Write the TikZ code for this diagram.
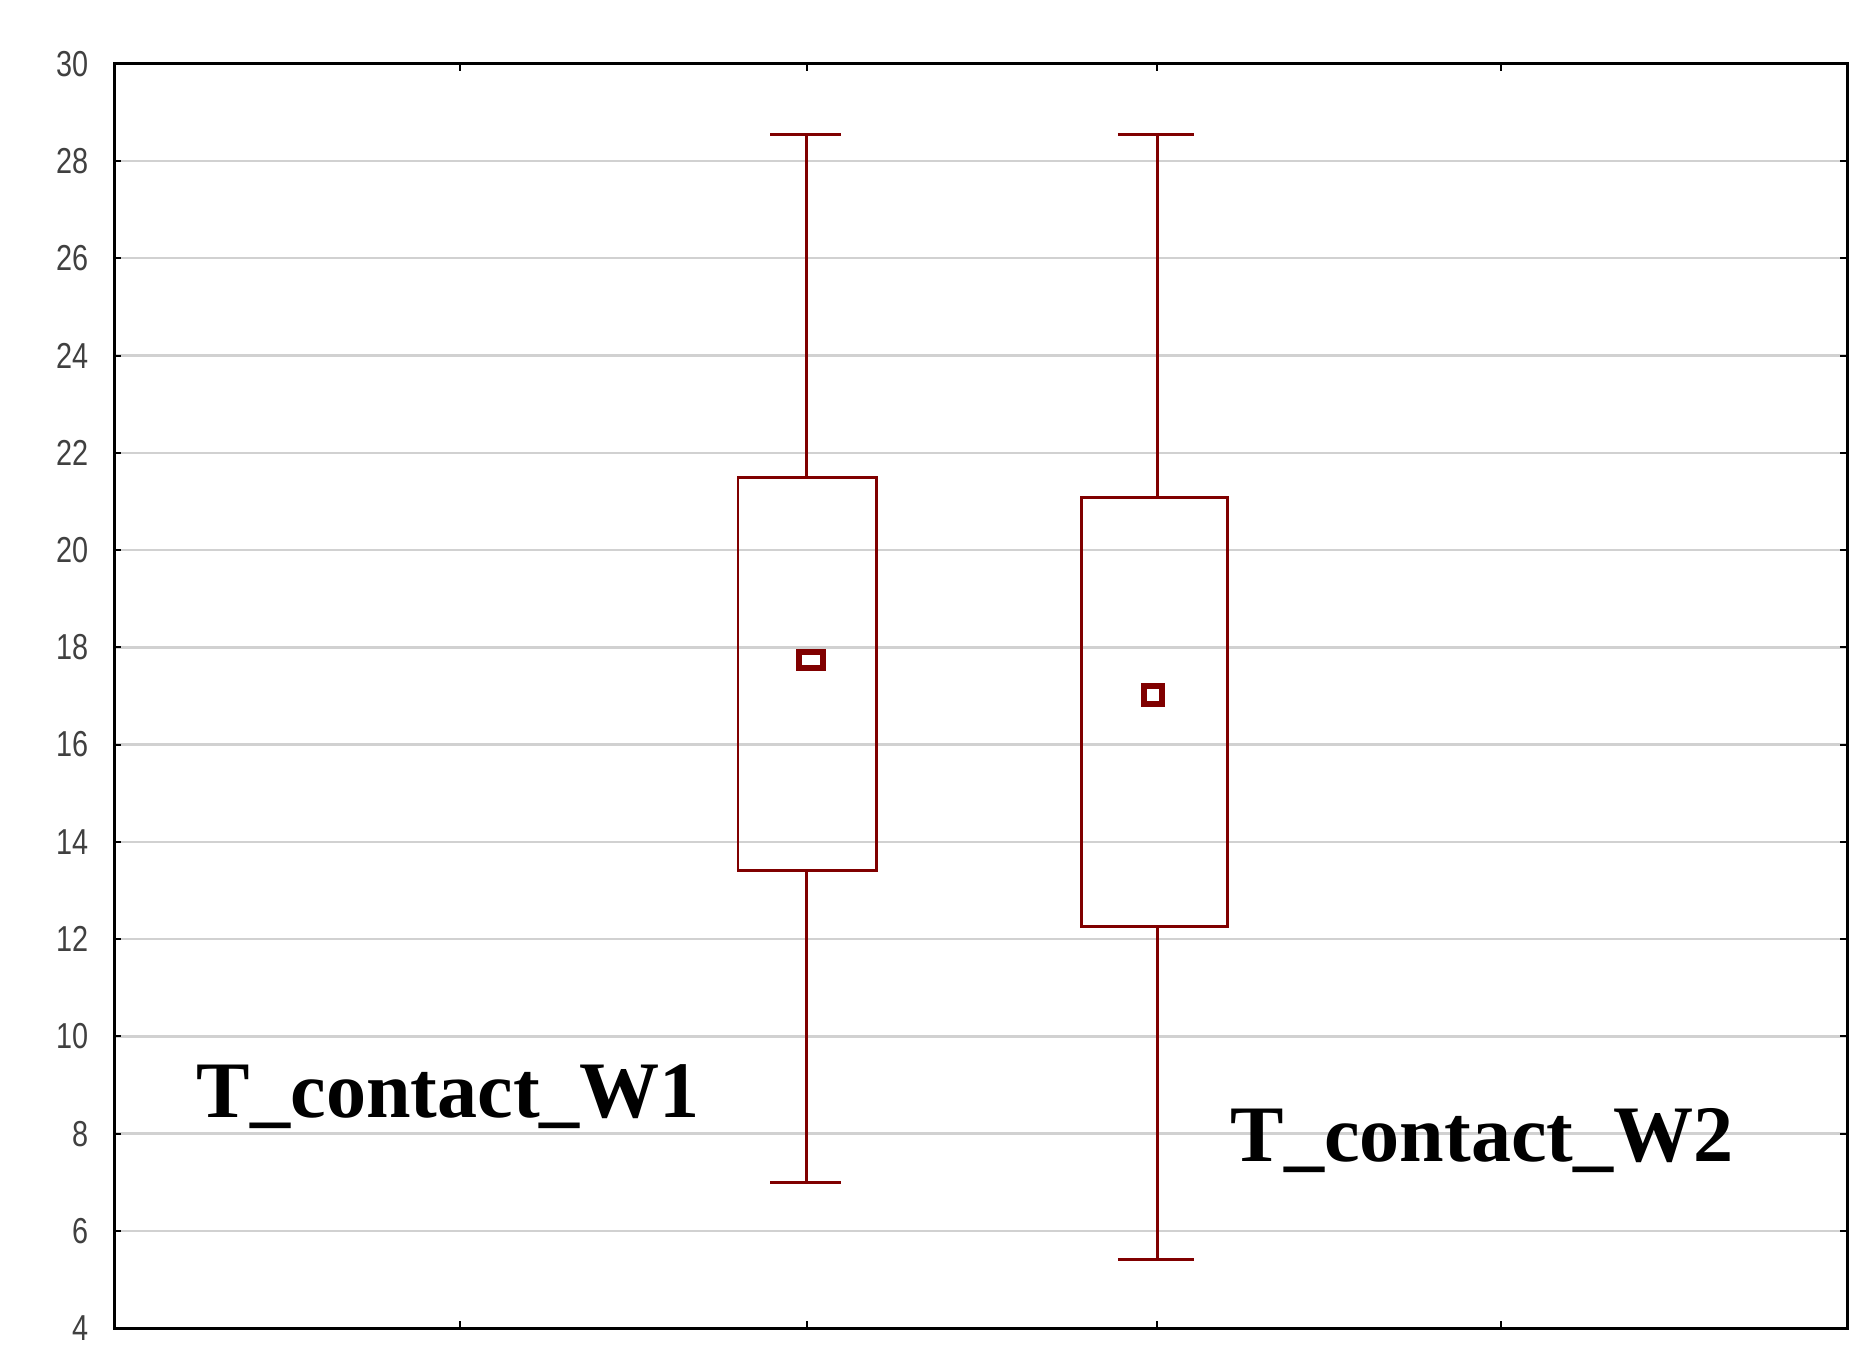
\documentclass[tikz,border=0pt]{standalone}
\usepackage{fontspec}
\setmainfont{Liberation Serif}
\newfontfamily\ticksf{Liberation Sans}
\definecolor{boxred}{RGB}{128,0,0}
\begin{document}
\begin{tikzpicture}[x=0.6pt,y=-0.6pt,
  grid/.style={draw=black!18,line width=1.2pt},
  boxline/.style={draw=boxred,line width=1.4pt},
  ticklab/.style={font=\ticksf\fontsize{18}{18}\selectfont,text=black!75,xscale=0.8,anchor=east},
  biglab/.style={font=\bfseries\fontsize{40}{40}\selectfont,anchor=base west}]
\useasboundingbox (0,0) rectangle (1560,1137);
\fill[white] (0,0) rectangle (1560,1137);
\foreach \v in {6,8,...,28} {
  \pgfmathsetmacro\yy{1105-(\v-4)*40.46}
  \draw[grid] (95,\yy) -- (1537,\yy);
  \draw[line width=1pt] (95,\yy) -- (101,\yy) (1531,\yy) -- (1537,\yy);
}
\foreach \v in {4,6,...,30} {
  \pgfmathsetmacro\yy{1105-(\v-4)*40.46}
  \node[ticklab] at (78,\yy) {\v};
}
\foreach \xx in {383,671,963,1249} {
  \draw[line width=1pt] (\xx,1105) -- (\xx,1099) (\xx,53) -- (\xx,59);
}
\draw[line width=1.4pt] (95,53) rectangle (1537,1105);
% box 1
\coordinate (w1t) at (671,112); \coordinate (w1b) at (671,984);
\node[boxline,minimum width=69pt,minimum height=196.2pt,inner sep=0pt] (b1) at (671.5,560.5) {};
\draw[boxline] (w1t) -- (b1.north -| w1t) (b1.south -| w1b) -- (w1b);
\draw[boxline] (641,112) -- (700,112) (641,984) -- (700,984);
\node[draw=boxred,line width=3pt,minimum width=12pt,minimum height=8pt,inner sep=0pt] (m1) at (675,549) {};
% box 2
\coordinate (w2t) at (963,112); \coordinate (w2b) at (963,1048);
\node[boxline,minimum width=72.6pt,minimum height=214.2pt,inner sep=0pt] (b2) at (960.5,592.5) {};
\draw[boxline] (w2t) -- (b2.north -| w2t) (b2.south -| w2b) -- (w2b);
\draw[boxline] (930,112) -- (993,112) (930,1048) -- (993,1048);
\node[draw=boxred,line width=3pt,minimum width=9pt,minimum height=9pt,inner sep=0pt] (m2) at (959,578) {};
\node[biglab] (l1) at (158,930) {T\_contact\_W1};
\node[biglab] (l2) at (1018,966) {T\_contact\_W2};
\end{tikzpicture}
\end{document}
